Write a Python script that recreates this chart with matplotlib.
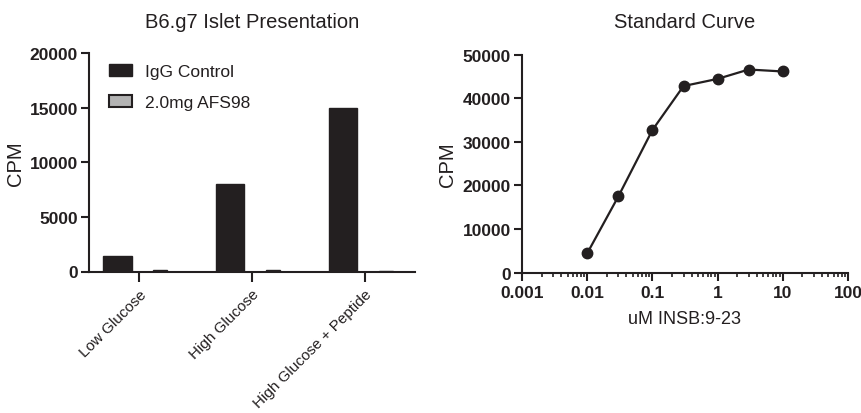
import matplotlib
matplotlib.use("Agg")
import matplotlib.pyplot as plt
import matplotlib.transforms as mtransforms
import numpy as np
from matplotlib.ticker import LogLocator, FixedLocator, NullFormatter
from matplotlib.patches import Patch

plt.rcParams['font.family'] = ['Liberation Sans', 'DejaVu Sans']

# ---- data ----
categories = ["Low Glucose", "High Glucose", "High Glucose + Peptide"]
igg_control = [1400, 8000, 15000]
afs98 = [150, 100, 80]
series_names = ["IgG Control", "2.0mg AFS98"]

conc = [0.01, 0.03, 0.1, 0.3, 1, 3, 10]
cpm = [4400, 17450, 32700, 42800, 44450, 46600, 46150]
log_ticks = [0.001, 0.01, 0.1, 1, 10, 100]
log_tick_labels = ["0.001", "0.01", "0.1", "1", "10", "100"]

INK = "#231f20"
GRAY = "#b3b3b3"
TICK_FS = 12.5

fig = plt.figure(figsize=(8.62, 4.14), dpi=100)

# ---- left: bar chart ----
ax1 = fig.add_axes([89/862, 1-272.5/414, (415-89)/862, (272.5-54)/414])
x = np.arange(len(categories))
ax1.bar(x - 0.193, igg_control, width=0.252, color=INK, edgecolor=INK, linewidth=1)
ax1.bar(x + 0.186, afs98, width=0.124, color=GRAY, edgecolor=INK, linewidth=1)
ax1.set_xlim(-0.446, 2.446)
ax1.set_ylim(0, 20000)
ax1.set_yticks([0, 5000, 10000, 15000, 20000])
ax1.set_xticks(x)
ax1.set_xticklabels(categories, rotation=45, ha='right', rotation_mode='anchor',
                    fontsize=11, color=INK)
offset = mtransforms.ScaledTranslation(-3/100, 2/100, fig.dpi_scale_trans)
for lab in ax1.get_xticklabels():
    lab.set_transform(lab.get_transform() + offset)
for lab in ax1.get_yticklabels():
    lab.set_fontweight('bold'); lab.set_fontsize(TICK_FS); lab.set_color(INK)
ax1.tick_params(axis='y', length=6, width=1.5, color=INK, pad=2)
ax1.tick_params(axis='x', length=7, width=1.5, color=INK, pad=4)
ax1.set_ylabel("CPM", fontsize=14.5, color=INK, labelpad=3)
ax1.set_title("B6.g7 Islet Presentation", fontsize=14.5, color=INK, pad=19)
for s in ['top', 'right']:
    ax1.spines[s].set_visible(False)
for s in ['left', 'bottom']:
    ax1.spines[s].set_linewidth(1.5)
    ax1.spines[s].set_color(INK)
handles = [Patch(facecolor=INK, edgecolor=INK, linewidth=1),
           Patch(facecolor=GRAY, edgecolor=INK, linewidth=1.5)]
leg = ax1.legend(handles, series_names, loc='upper left', bbox_to_anchor=(0.061, 0.948),
                 frameon=False, fontsize=12.5, handlelength=1.32, handleheight=0.65,
                 labelspacing=0.9, handletextpad=0.75, borderpad=0, borderaxespad=0)
for t in leg.get_texts():
    t.set_color(INK)

# ---- right: standard curve ----
ax2 = fig.add_axes([522/862, 1-273.5/414, (848-522)/862, (273.5-55.7)/414])
ax2.plot(conc, cpm, color=INK, linewidth=1.6, marker='o', markersize=7.5,
         markerfacecolor=INK, markeredgecolor=INK)
ax2.set_xscale('log')
ax2.set_xlim(0.001, 100)
ax2.set_ylim(0, 50000)
ax2.set_yticks([0, 10000, 20000, 30000, 40000, 50000])
ax2.xaxis.set_major_locator(FixedLocator(log_ticks))
ax2.set_xticklabels(log_tick_labels)
ax2.xaxis.set_minor_locator(LogLocator(base=10, subs=np.arange(2, 10)))
ax2.xaxis.set_minor_formatter(NullFormatter())
for lab in ax2.get_yticklabels() + ax2.get_xticklabels():
    lab.set_fontweight('bold'); lab.set_fontsize(TICK_FS); lab.set_color(INK)
ax2.tick_params(axis='y', length=6, width=1.5, color=INK, pad=2)
ax2.tick_params(axis='x', which='major', length=6, width=1.5, color=INK, pad=3)
ax2.tick_params(axis='x', which='minor', length=3, width=1.2, color=INK)
ax2.set_ylabel("CPM", fontsize=14.5, color=INK, labelpad=4)
ax2.set_xlabel("uM INSB:9-23", fontsize=13, color=INK, labelpad=7)
ax2.set_title("Standard Curve", fontsize=14.5, color=INK, pad=20)
for s in ['top', 'right']:
    ax2.spines[s].set_visible(False)
for s in ['left', 'bottom']:
    ax2.spines[s].set_linewidth(1.5)
    ax2.spines[s].set_color(INK)

fig.savefig("out.png", dpi=100)
